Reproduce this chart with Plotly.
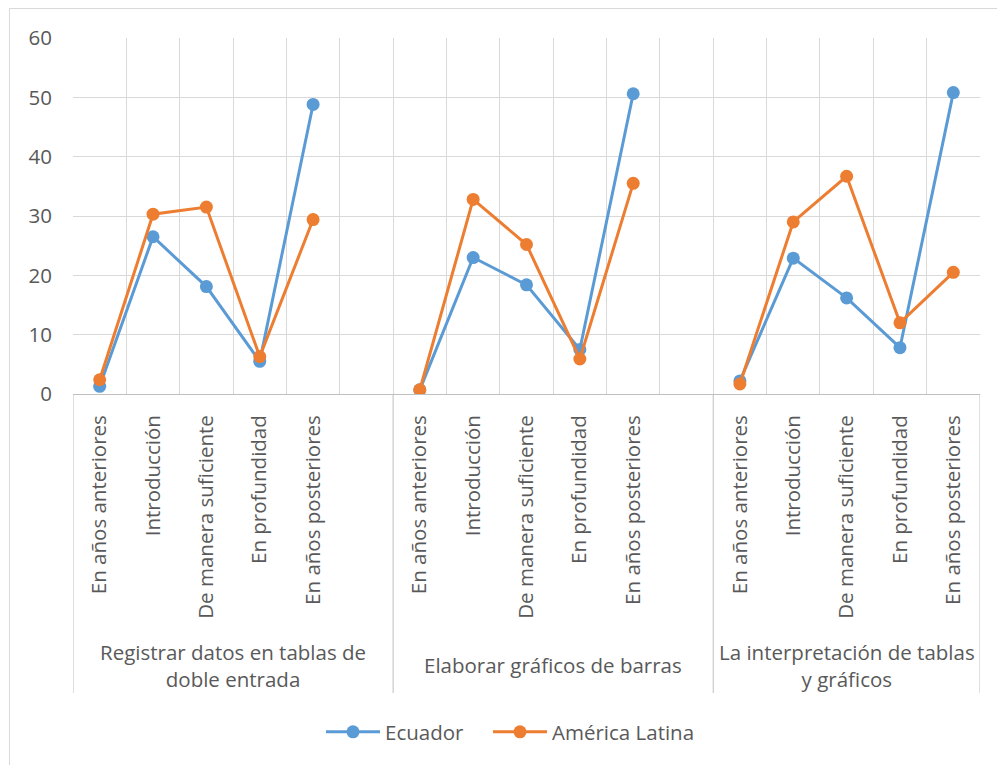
import plotly.graph_objects as go

# Survey categories (inner level) and their groups (outer level)
groups = [
    "Registrar datos en tablas de<br>doble entrada",
    "Elaborar gráficos de barras",
    "La interpretación de tablas<br>y gráficos",
]
categories = [
    "En años anteriores",
    "Introducción",
    "De manera suficiente",
    "En profundidad",
    "En años posteriores",
]

# Percentages per group, in category order
ecuador = [
    [1.3, 26.5, 18.1, 5.5, 48.8],
    [0.7, 23.0, 18.4, 7.5, 50.6],
    [2.2, 22.9, 16.2, 7.8, 50.8],
]
america_latina = [
    [2.4, 30.3, 31.5, 6.3, 29.4],
    [0.7, 32.8, 25.2, 5.9, 35.5],
    [1.7, 29.0, 36.7, 12.0, 20.5],
]

y_ticks = [0, 10, 20, 30, 40, 50, 60]

BLUE = "#5b9bd5"
ORANGE = "#ed7d31"
TEXT = "#595959"
GRID = "#d9d9d9"
AXIS = "#bfbfbf"
FONT = "Open Sans"
FS = 20.5

# Each group occupies a block of slots; groups that are followed by another
# group get one extra empty slot, which also breaks the line between groups.
slots_per_group = len(categories) + 1
x_vals, tick_text = [], []
group_start = []
for g in range(len(groups)):
    start = g * slots_per_group
    group_start.append(start)
    for c, cat in enumerate(categories):
        x_vals.append(start + c)
        tick_text.append(cat)
n_slots = len(groups) * slots_per_group - 1
x_min, x_max = -0.5, n_slots - 0.5


def series(values):
    xs, ys = [], []
    for g, vals in enumerate(values):
        for c, v in enumerate(vals):
            xs.append(group_start[g] + c)
            ys.append(v)
        xs.append(group_start[g] + len(vals))
        ys.append(None)
    return xs, ys


# Plot area geometry in pixels (used for placing the outer labels)
W, H = 997, 765
L, R, T, B = 73, 17, 38, 371
plot_h = H - T - B
plot_w = W - L - R


def py(pixel_y):
    return (H - B - pixel_y) / plot_h


def px(pixel_x):
    return (pixel_x - L) / plot_w


fig = go.Figure()
legend_ids = ["legend", "legend2"]
for name, values, color, leg in [
    ("Ecuador", ecuador, BLUE, legend_ids[0]),
    ("América Latina", america_latina, ORANGE, legend_ids[1]),
]:
    xs, ys = series(values)
    fig.add_trace(
        go.Scatter(
            x=xs,
            y=ys,
            name=name,
            mode="lines+markers",
            line=dict(color=color, width=3),
            marker=dict(color=color, size=13),
            connectgaps=False,
            legend=leg,
        )
    )

# Group dividers extending below the category axis
boundaries = [x_min] + [group_start[g] - 0.5 for g in range(1, len(groups))] + [x_max]
shapes = []
for b in boundaries:
    shapes.append(
        dict(type="line", xref="x", yref="paper", x0=b, x1=b, y0=0, y1=py(693),
             line=dict(color=AXIS, width=1), layer="below")
    )

# Chart frame
shapes.append(
    dict(type="rect", xref="paper", yref="paper",
         x0=px(9.5), x1=px(1005), y0=py(775), y1=py(8.5),
         line=dict(color=GRID, width=1), fillcolor="rgba(0,0,0,0)", layer="below")
)

# Group labels
annotations = []
for g, label in enumerate(groups):
    left = boundaries[g]
    right = boundaries[g + 1]
    annotations.append(
        dict(x=(left + right) / 2, y=py(665), xref="x", yref="paper",
             text=label, showarrow=False, xanchor="center", yanchor="middle",
             font=dict(family=FONT, size=FS, color=TEXT), align="center")
    )


def legend_box(left_px):
    return dict(
        orientation="h",
        x=px(left_px), y=py(732),
        xanchor="left", yanchor="middle",
        font=dict(family=FONT, size=FS, color=TEXT),
        itemwidth=54,
        bgcolor="rgba(0,0,0,0)",
    )


fig.update_layout(
    width=W,
    height=H,
    margin=dict(l=L, r=R, t=T, b=B),
    paper_bgcolor="white",
    plot_bgcolor="white",
    font=dict(family=FONT, size=FS, color=TEXT),
    showlegend=True,
    legend=legend_box(321),
    legend2=legend_box(488),
    shapes=shapes,
    annotations=annotations,
)

fig.update_xaxes(
    range=[x_min, x_max],
    tickmode="array",
    tickvals=x_vals,
    ticktext=tick_text,
    tickangle=-90,
    ticks="",
    ticklabelstandoff=12,
    showgrid=False,
    zeroline=False,
    showline=True,
    linecolor=AXIS,
    linewidth=1,
    minor=dict(
        tickmode="array",
        tickvals=[x_min + k for k in range(n_slots + 1)],
        showgrid=True,
        gridcolor=GRID,
        gridwidth=1,
        ticks="",
    ),
    tickfont=dict(family=FONT, size=FS, color=TEXT),
    fixedrange=True,
)

fig.update_yaxes(
    range=[0, 60],
    tickmode="array",
    tickvals=y_ticks,
    ticks="",
    ticklabelstandoff=20,
    showgrid=True,
    gridcolor=GRID,
    gridwidth=1,
    zeroline=False,
    showline=False,
    tickfont=dict(family=FONT, size=FS, color=TEXT),
    fixedrange=True,
)

fig.write_html("out.html")
